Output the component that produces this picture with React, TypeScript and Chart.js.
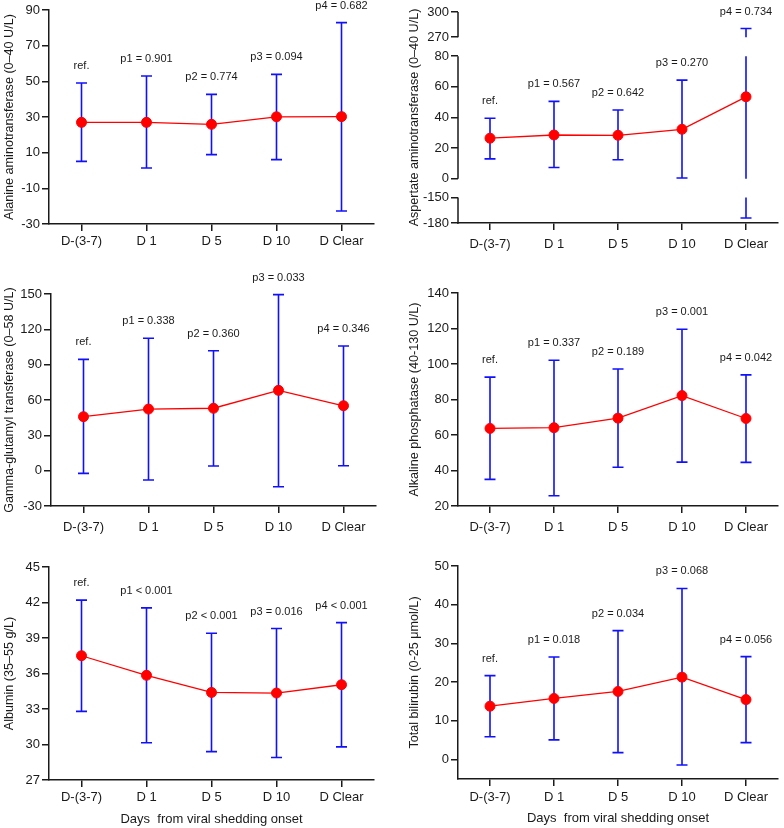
import React, { useEffect, useRef } from 'react';
import { Chart, registerables, LinearScale } from 'chart.js';

Chart.register(...registerables);

const FONT = "'Liberation Sans', Arial, Helvetica, sans-serif";
const INK = '#1a1a1a';
const RED = '#ff0000';
const BLUE = '#1010ff';

// ---------------- data ----------------
const categories = ['D-(3-7)', 'D 1', 'D 5', 'D 10', 'D Clear'];

const altMean = [27.0, 27.0, 25.9, 30.1, 30.2];
const altUpper = [49.1, 53.0, 42.7, 53.9, 82.9];
const altLower = [5.1, 1.4, 8.9, 6.1, -22.7];
const altP = ['ref.', 'p1 = 0.901', 'p2 = 0.774', 'p3 = 0.094', 'p4 = 0.682'];
const altTicks = [-30, -10, 10, 30, 50, 70, 90];

const astMean = [26.5, 28.6, 28.4, 32.3, 53.5];
const astUpper = [39.5, 50.5, 44.9, 64.4, 280.3];
const astLower = [13.0, 7.4, 12.4, 0.5, -174.1];
const astP = ['ref.', 'p1 = 0.567', 'p2 = 0.642', 'p3 = 0.270', 'p4 = 0.734'];
const astTicks = [-180, -150, 0, 20, 40, 60, 80, 270, 300];

const ggtMean = [45.8, 52.3, 53.0, 68.2, 55.1];
const ggtUpper = [94.5, 112.4, 101.8, 149.5, 105.8];
const ggtLower = [-2.3, -7.9, 4.0, -13.6, 4.2];
const ggtP = ['ref.', 'p1 = 0.338', 'p2 = 0.360', 'p3 = 0.033', 'p4 = 0.346'];
const ggtTicks = [-30, 0, 30, 60, 90, 120, 150];

const alpMean = [63.7, 64.1, 69.5, 82.2, 69.3];
const alpUpper = [92.6, 102.1, 97.2, 119.6, 93.9];
const alpLower = [35.0, 25.8, 41.8, 44.7, 44.6];
const alpP = ['ref.', 'p1 = 0.337', 'p2 = 0.189', 'p3 = 0.001', 'p4 = 0.042'];
const alpTicks = [20, 40, 60, 80, 100, 120, 140];

const albMean = [37.5, 35.85, 34.4, 34.35, 35.05];
const albUpper = [42.2, 41.55, 39.4, 39.8, 40.3];
const albLower = [32.8, 30.15, 29.4, 28.9, 29.8];
const albP = ['ref.', 'p1 < 0.001', 'p2 < 0.001', 'p3 = 0.016', 'p4 < 0.001'];
const albTicks = [27, 30, 33, 36, 39, 42, 45];

const tbilMean = [13.8, 15.8, 17.6, 21.3, 15.5];
const tbilUpper = [21.7, 26.5, 33.3, 44.2, 26.6];
const tbilLower = [5.9, 5.1, 1.8, -1.4, 4.4];
const tbilP = ['ref.', 'p1 = 0.018', 'p2 = 0.034', 'p3 = 0.068', 'p4 = 0.056'];
const tbilTicks = [0, 10, 20, 30, 40, 50];

const xAxisTitle = 'Days  from viral shedding onset';

// ---------------- broken axis (AST) ----------------
const AST_SEGMENTS = [
  { min: -180, max: -150, weight: 25.6 },
  { min: 0, max: 80, weight: 123 },
  { min: 270, max: 300, weight: 25.3 },
];
const AST_GAPS = [18.7, 19];

function brokenDecimal(value: number): number {
  const total =
    AST_SEGMENTS.reduce((a, s) => a + s.weight, 0) + AST_GAPS.reduce((a, g) => a + g, 0);
  let acc = 0;
  for (let i = 0; i < AST_SEGMENTS.length; i++) {
    const s = AST_SEGMENTS[i];
    if (value < s.min) return acc / total;
    if (value <= s.max) return (acc + ((value - s.min) / (s.max - s.min)) * s.weight) / total;
    acc += s.weight;
    if (i < AST_GAPS.length) acc += AST_GAPS[i];
  }
  return 1;
}

class BrokenLinearScale extends LinearScale {
  static id = 'brokenLinear';
  static defaults = {};
  getPixelForValue(value: number) {
    if (value === null || value === undefined || isNaN(value)) return NaN;
    return this.getPixelForDecimal(brokenDecimal(value));
  }
  getValueForPixel(pixel: number) {
    const dec = this.getDecimalForPixel(pixel);
    const total =
      AST_SEGMENTS.reduce((a, s) => a + s.weight, 0) + AST_GAPS.reduce((a, g) => a + g, 0);
    let acc = 0;
    const target = dec * total;
    for (let i = 0; i < AST_SEGMENTS.length; i++) {
      const s = AST_SEGMENTS[i];
      if (target <= acc + s.weight) {
        return s.min + ((target - acc) / s.weight) * (s.max - s.min);
      }
      acc += s.weight + (AST_GAPS[i] || 0);
    }
    return AST_SEGMENTS[AST_SEGMENTS.length - 1].max;
  }
}
Chart.register(BrokenLinearScale as any);

// ---------------- panels ----------------
type PanelDef = {
  left: number; top: number; width: number; height: number;
  yW: number; padTop: number; padRight: number; xH: number;
  titlePad: number; xPad: number; xTitlePad?: number;
  yMin: number; yMax: number; yTicks: number[]; yTitle: string; xTitle?: string;
  mean: number[]; upper: number[]; lower: number[]; pLabels: string[];
  broken?: boolean;
};

const panels: PanelDef[] = [
  {
    left: 0, top: 0, width: 392, height: 270,
    yW: 49, padTop: 10, padRight: 18, xH: 46, titlePad: 2, xPad: 2.5,
    yMin: -30, yMax: 90, yTicks: altTicks, yTitle: 'Alanine aminotransferase (0–40 U/L)',
    mean: altMean, upper: altUpper, lower: altLower, pLabels: altP,
  },
  {
    left: 392, top: 0, width: 392, height: 270,
    yW: 66, padTop: 12, padRight: 1, xH: 47, titlePad: 15, xPad: 7,
    yMin: -180, yMax: 300, yTicks: astTicks, yTitle: 'Aspertate aminotransferase (0–40 U/L)',
    mean: astMean, upper: astUpper, lower: astLower, pLabels: astP, broken: true,
  },
  {
    left: 0, top: 270, width: 392, height: 270,
    yW: 51, padTop: 24, padRight: 16, xH: 34, titlePad: 2, xPad: 6.5,
    yMin: -30, yMax: 150, yTicks: ggtTicks, yTitle: 'Gamma-glutamyl transferase (0–58 U/L)',
    mean: ggtMean, upper: ggtUpper, lower: ggtLower, pLabels: ggtP,
  },
  {
    left: 392, top: 270, width: 392, height: 270,
    yW: 66, padTop: 23, padRight: 1, xH: 34, titlePad: 15, xPad: 6.5,
    yMin: 20, yMax: 140, yTicks: alpTicks, yTitle: 'Alkaline phosphatase (40-130 U/L)',
    mean: alpMean, upper: alpUpper, lower: alpLower, pLabels: alpP,
  },
  {
    left: 0, top: 540, width: 392, height: 288,
    yW: 49, padTop: 27, padRight: 18, xH: 48, titlePad: 2, xPad: 3, xTitlePad: 1,
    yMin: 27, yMax: 45, yTicks: albTicks, yTitle: 'Albumin (35–55 g/L)', xTitle: xAxisTitle,
    mean: albMean, upper: albUpper, lower: albLower, pLabels: albP,
  },
  {
    left: 392, top: 540, width: 392, height: 288,
    yW: 66, padTop: 26, padRight: 1, xH: 49, titlePad: 15, xPad: 4, xTitlePad: 2,
    yMin: -5, yMax: 50, yTicks: tbilTicks, yTitle: 'Total bilirubin (0-25 μmol/L)', xTitle: xAxisTitle,
    mean: tbilMean, upper: tbilUpper, lower: tbilLower, pLabels: tbilP,
  },
];

const AXIS_W = 1.5;
const CAP = 5.5;

function Panel({ def }: { def: PanelDef }) {
  const ref = useRef<HTMLCanvasElement>(null);
  useEffect(() => {
    if (!ref.current) return;
    const overlay = {
      id: 'overlay',
      beforeDatasetsDraw(chart: any) {
        const ctx = chart.ctx;
        const xs = chart.scales.x;
        const ys = chart.scales.y;
        ctx.save();
        // broken axis line segments
        if (def.broken) {
          ctx.strokeStyle = INK;
          ctx.lineWidth = AXIS_W;
          const ax = chart.chartArea.left;
          ctx.beginPath();
          AST_SEGMENTS.forEach((s, i) => {
            const yTop = ys.getPixelForValue(s.max);
            const yBot = i === 0 ? chart.chartArea.bottom + AXIS_W / 2 : ys.getPixelForValue(s.min);
            ctx.moveTo(ax, yTop);
            ctx.lineTo(ax, yBot);
          });
          ctx.stroke();
        }
        // error bars
        ctx.strokeStyle = BLUE;
        ctx.lineWidth = 1.6;
        ctx.beginPath();
        def.mean.forEach((_, i) => {
          const x = xs.getPixelForValue(i);
          const segs = def.broken ? AST_SEGMENTS : [{ min: -Infinity, max: Infinity }];
          segs.forEach((s) => {
            const lo = Math.max(def.lower[i], s.min);
            const hi = Math.min(def.upper[i], s.max);
            if (lo < hi) {
              ctx.moveTo(x, ys.getPixelForValue(lo));
              ctx.lineTo(x, ys.getPixelForValue(hi));
            }
          });
          const yu = ys.getPixelForValue(def.upper[i]);
          const yl = ys.getPixelForValue(def.lower[i]);
          ctx.moveTo(x - CAP, yu);
          ctx.lineTo(x + CAP, yu);
          ctx.moveTo(x - CAP, yl);
          ctx.lineTo(x + CAP, yl);
        });
        ctx.stroke();
        ctx.restore();
      },
      afterDatasetsDraw(chart: any) {
        const ctx = chart.ctx;
        const xs = chart.scales.x;
        const ys = chart.scales.y;
        ctx.save();
        ctx.fillStyle = INK;
        ctx.font = `11px ${FONT}`;
        ctx.textAlign = 'center';
        ctx.textBaseline = 'middle';
        def.pLabels.forEach((t, i) => {
          const x = xs.getPixelForValue(i);
          const y = ys.getPixelForValue(def.upper[i]) - 17;
          ctx.fillText(t, x, y);
        });
        ctx.restore();
      },
    };

    const chart = new Chart(ref.current, {
      type: 'line',
      data: {
        labels: categories,
        datasets: [
          {
            data: def.mean,
            borderColor: RED,
            borderWidth: 1.3,
            backgroundColor: RED,
            pointRadius: 5,
            pointBackgroundColor: RED,
            pointBorderColor: RED,
            pointBorderWidth: 1,
            tension: 0,
            clip: false as any,
          },
        ],
      },
      options: {
        animation: false,
        responsive: false,
        maintainAspectRatio: false,
        events: [],
        layout: { padding: { left: 0, top: def.padTop, right: def.padRight, bottom: 0 } },
        plugins: { legend: { display: false }, tooltip: { enabled: false } },
        scales: {
          x: {
            type: 'category',
            offset: true,
            afterFit: (s: any) => { s.height = def.xH; },
            ticks: {
              font: { family: FONT, size: 13 },
              color: INK,
              padding: def.xPad,
              maxRotation: 0,
              autoSkip: false,
            },
            grid: {
              display: true,
              drawOnChartArea: false,
              drawTicks: true,
              tickLength: 7,
              color: INK,
              lineWidth: AXIS_W,
              offset: false,
            },
            border: { display: true, color: INK, width: AXIS_W },
            title: {
              display: !!def.xTitle,
              text: def.xTitle || '',
              font: { family: FONT, size: 13 },
              color: INK,
              padding: { top: 0, bottom: def.xTitlePad ?? 0 },
            },
          },
          y: {
            type: (def.broken ? 'brokenLinear' : 'linear') as any,
            min: def.yMin,
            max: def.yMax,
            afterBuildTicks: (s: any) => { s.ticks = def.yTicks.map((v) => ({ value: v })); },
            afterFit: (s: any) => { s.width = def.yW; },
            ticks: {
              font: { family: FONT, size: 13 },
              color: INK,
              padding: 2,
              callback: (v: any) => String(v),
            },
            grid: {
              display: true,
              drawOnChartArea: false,
              drawTicks: true,
              tickLength: 7,
              color: INK,
              lineWidth: AXIS_W,
            },
            border: { display: !def.broken, color: INK, width: AXIS_W },
            title: {
              display: true,
              text: def.yTitle,
              font: { family: FONT, size: 12.6 },
              color: INK,
              padding: { top: def.titlePad, bottom: 0 },
            },
          },
        },
      } as any,
      plugins: [overlay],
    });
    return () => chart.destroy();
  }, []);
  return (
    <canvas
      ref={ref}
      width={def.width}
      height={def.height}
      style={{ position: 'absolute', left: def.left, top: def.top, width: def.width, height: def.height }}
    />
  );
}

export default function App() {
  return (
    <div
      style={{
        position: 'fixed',
        left: 0,
        top: 0,
        width: 784,
        height: 828,
        background: '#ffffff',
        overflow: 'hidden',
      }}
    >
      {panels.map((p, i) => (
        <Panel key={i} def={p} />
      ))}
    </div>
  );
}
